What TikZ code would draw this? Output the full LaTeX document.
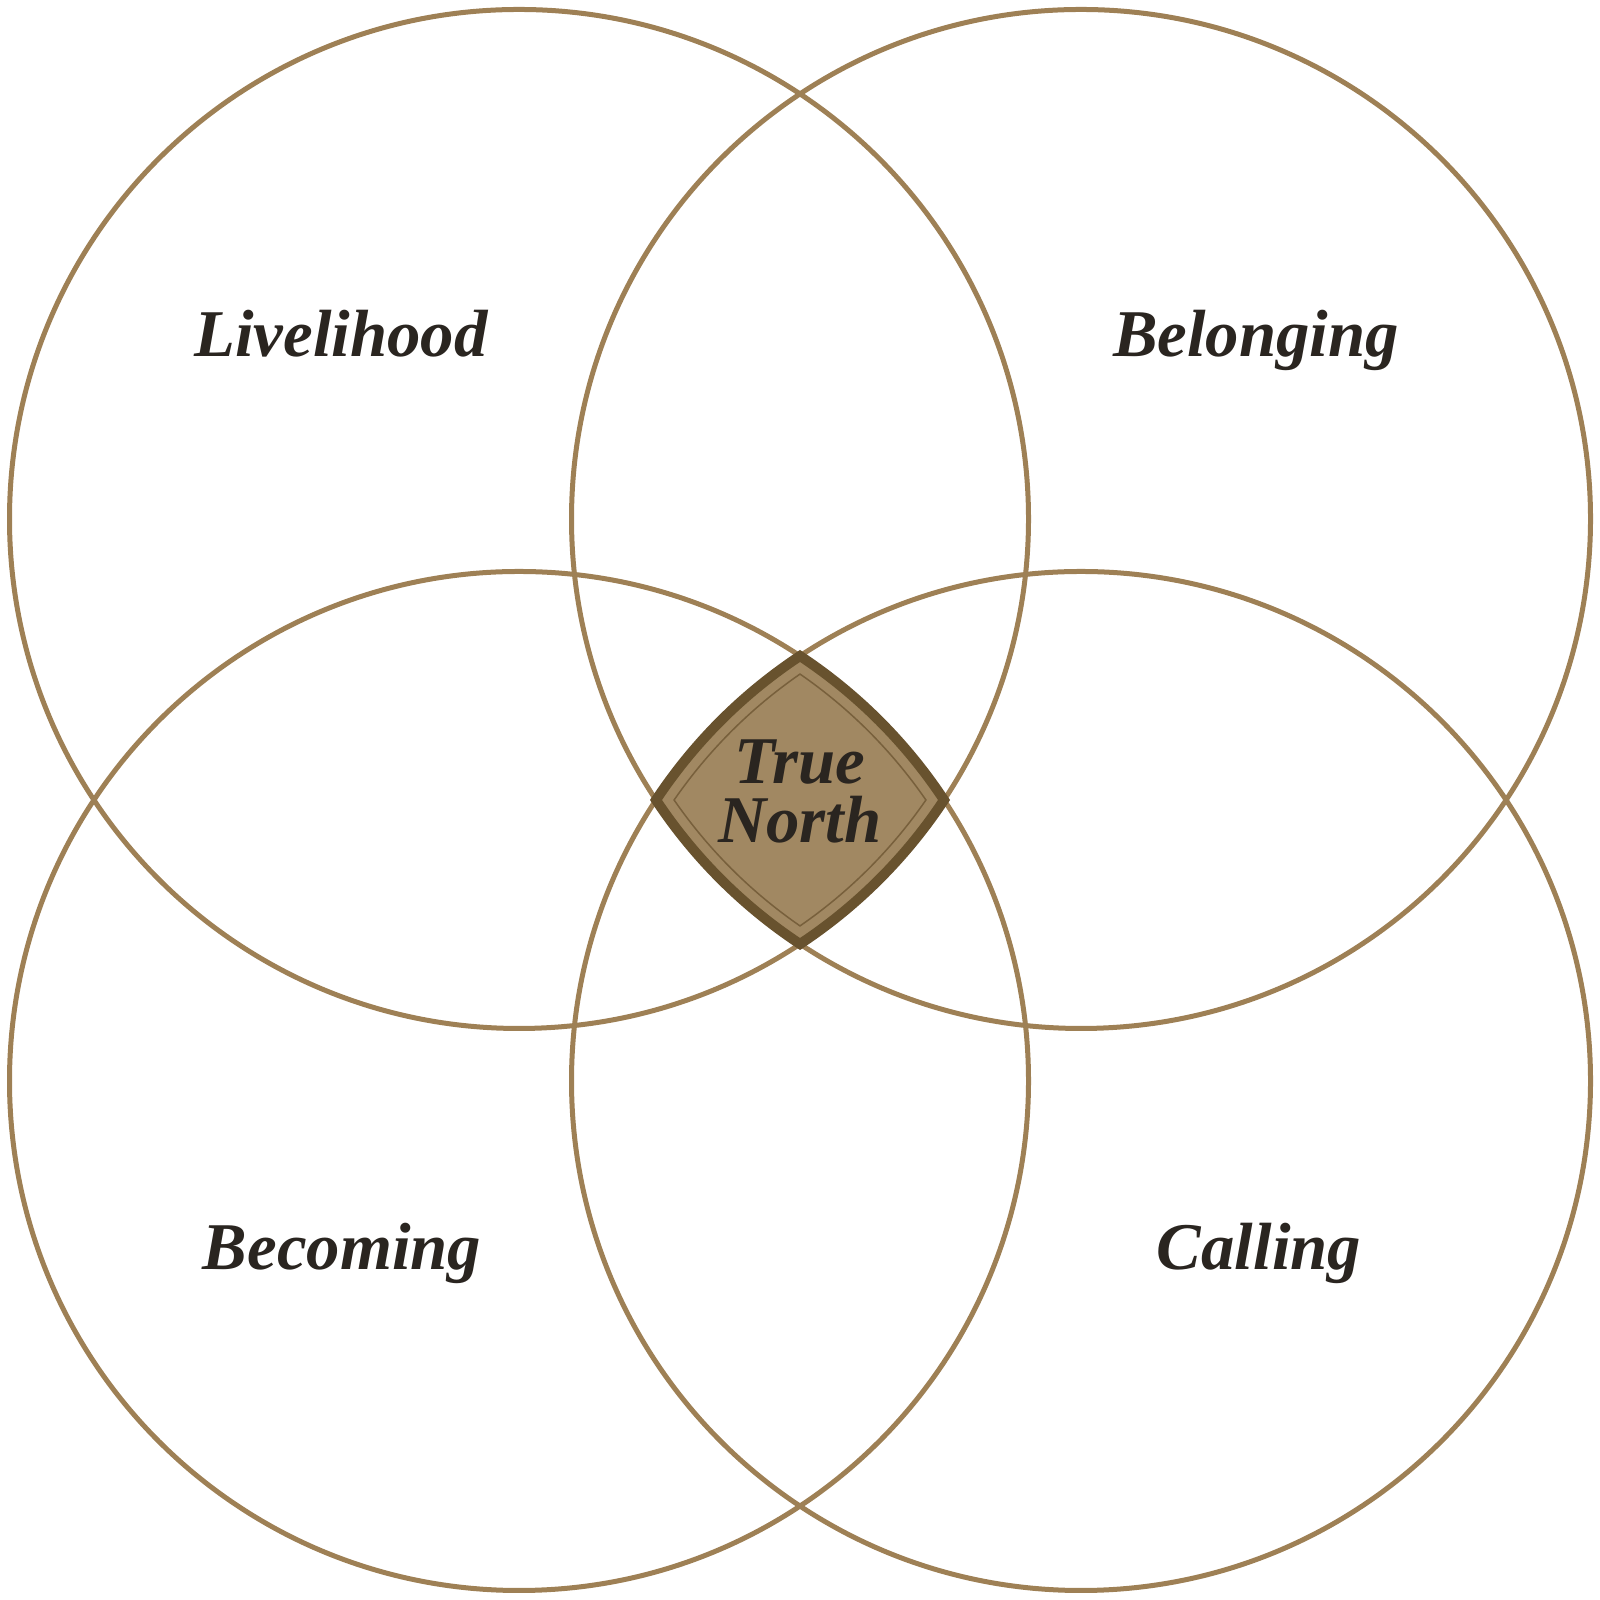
\documentclass[tikz,border=0pt]{standalone}
\usepackage{fontspec}
\setmainfont{Liberation Serif}
\definecolor{ringtan}{RGB}{158,128,85}
\definecolor{lensfill}{RGB}{161,136,98}
\definecolor{lensdark}{RGB}{104,82,46}
\definecolor{lensthin}{RGB}{120,96,60}
\definecolor{inkdark}{RGB}{42,37,32}
\tikzset{
  ring/.style={draw=ringtan, line width=0.05cm},
  lensborder/.style={draw=lensdark, line width=0.1cm, line join=miter, fill=lensfill},
  lensline/.style={draw=lensthin, line width=0.015cm},
  word/.style={anchor=base, text=inkdark, font=\fontsize{19}{23}\selectfont\bfseries\itshape},
  centreword/.style={anchor=base, text=inkdark, align=center, font=\fontsize{19}{16.8}\selectfont\bfseries\itshape}
}
\begin{document}
\begin{tikzpicture}
    \useasboundingbox (0,0) rectangle (16,16);
    \def\R{5.095}
    \def\d{2.81}

    % Quattro cerchi
    \foreach \cx/\cy in {-1/1, 1/1, -1/-1, 1/-1}{
        \draw[ring] ({8+\cx*\d},{8+\cy*\d}) circle(\R);
    }

    % Zona centrale (intersezione dei quattro cerchi)
    \begin{scope}[shift={(8,8)}]
        \pgfmathsetmacro{\h}{sqrt(\R*\R-\d*\d)}
        \pgfmathsetmacro{\ang}{atan2(\h,\d)}
        \draw[lensborder] (0,\h-\d)
            arc[start angle=\ang, end angle=90-\ang, radius=\R]
            arc[start angle=\ang-90, end angle=-\ang, radius=\R]
            arc[start angle=\ang-180, end angle=-90-\ang, radius=\R]
            arc[start angle=90+\ang, end angle=180-\ang, radius=\R] -- cycle;
        % Bordo sottile interno
        \pgfmathsetmacro{\r}{\R-0.15}
        \pgfmathsetmacro{\hh}{sqrt(\r*\r-\d*\d)}
        \pgfmathsetmacro{\bng}{atan2(\hh,\d)}
        \draw[lensline] (0,\hh-\d)
            arc[start angle=\bng, end angle=90-\bng, radius=\r]
            arc[start angle=\bng-90, end angle=-\bng, radius=\r]
            arc[start angle=\bng-180, end angle=-90-\bng, radius=\r]
            arc[start angle=90+\bng, end angle=180-\bng, radius=\r] -- cycle;
    \end{scope}

    % Etichette
    \node[word] (livelihood) at (3.41,12.43) {Livelihood};
    \node[word] (belonging) at (12.56,12.43) {Belonging};
    \node[word] (becoming) at (3.42,3.30) {Becoming};
    \node[word] (calling) at (12.59,3.30) {Calling};
    \node[centreword] (truenorth) at (8.0,7.57) {True\\North};

\end{tikzpicture}
\end{document}
